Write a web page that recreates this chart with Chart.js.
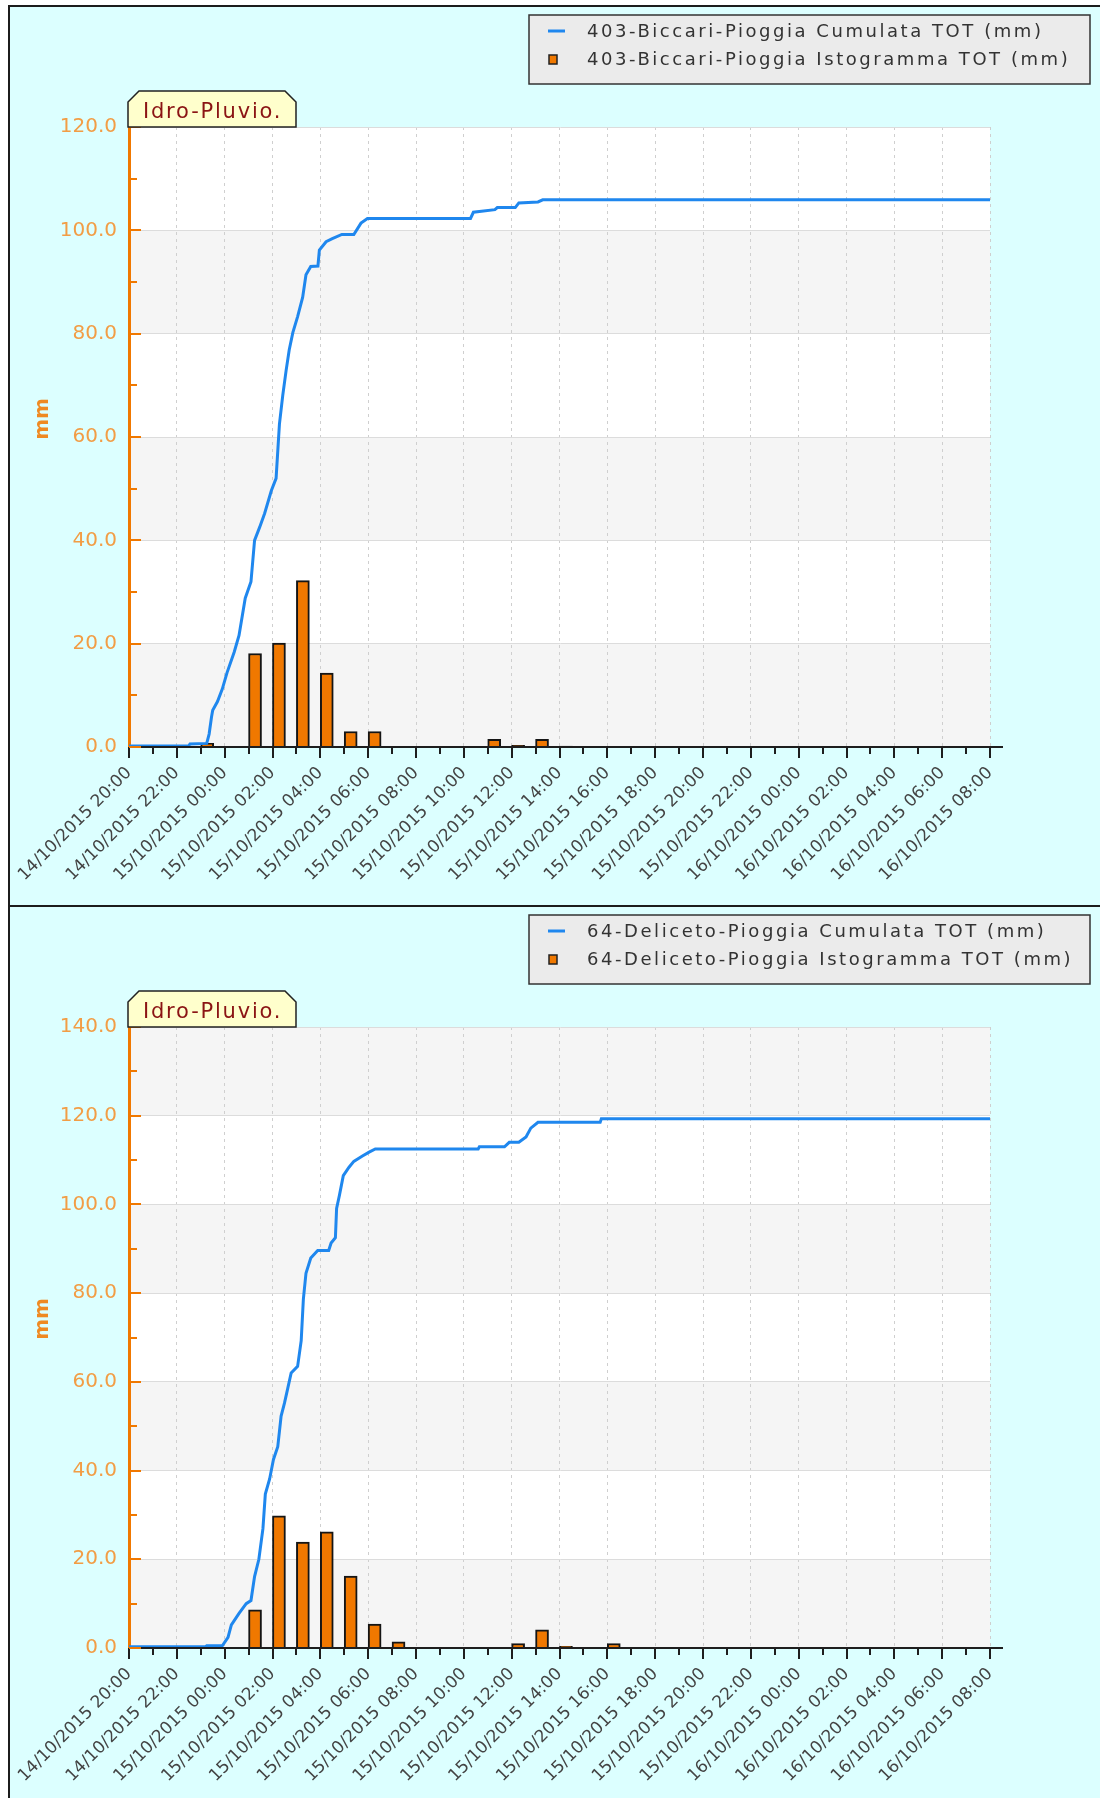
<!DOCTYPE html>
<html>
<head>
<meta charset="utf-8">
<script src="https://cdn.jsdelivr.net/npm/chart.js@4.4.1/dist/chart.umd.min.js"></script>
<style>
body { margin: 0; background: #fff; width: 1100px; height: 1798px; overflow: hidden; position: relative; }
.pannello { position: absolute; left: 8px; width: 1090px; background: #dcffff; border: 2px solid #1c1c1c; border-right: none; }
#p1 { top: 5px; height: 898px; }
#p2 { top: 905px; height: 900px; }
canvas { display: block; }
</style>
</head>
<body>
<div class="pannello" id="p1"><canvas id="grafico1" width="1090" height="898"></canvas></div>
<div class="pannello" id="p2"><canvas id="grafico2" width="1090" height="891"></canvas></div>
<script>
// ore contate dal 14/10/2015 20:00
const etichetteOre = ['14/10/2015 20:00', '14/10/2015 22:00', '15/10/2015 00:00', '15/10/2015 02:00',
    '15/10/2015 04:00', '15/10/2015 06:00', '15/10/2015 08:00', '15/10/2015 10:00', '15/10/2015 12:00',
    '15/10/2015 14:00', '15/10/2015 16:00', '15/10/2015 18:00', '15/10/2015 20:00', '15/10/2015 22:00',
    '16/10/2015 00:00', '16/10/2015 02:00', '16/10/2015 04:00', '16/10/2015 06:00', '16/10/2015 08:00'];

// 403 Biccari
const legenda1 = ['403-Biccari-Pioggia Cumulata TOT (mm)', '403-Biccari-Pioggia Istogramma TOT (mm)'];
const oreCumulata1 = [0, 2.5, 2.55, 3.25, 3.35, 3.45, 3.5, 3.7, 3.9, 4.1, 4.4, 4.6, 4.86, 5.1, 5.25, 5.46, 5.67,
    5.95, 6.15, 6.29, 6.43, 6.57, 6.7, 6.85, 7.05, 7.26, 7.4, 7.6, 7.9, 7.96, 8.24, 8.5, 8.9, 9.4, 9.7, 9.97,
    14.28, 14.4, 15.3, 15.4, 16.15, 16.3, 17.1, 17.3, 36];
const valoriCumulata1 = [0.2, 0.25, 0.6, 0.7, 2.5, 5.8, 7.1, 8.8, 11.2, 14.4, 18.4, 21.6, 28.8, 32, 40, 42.5, 45.2,
    49.6, 52, 62.5, 68.1, 72.9, 76.9, 80.2, 83.3, 87, 91.4, 93, 93.1, 96.2, 97.8, 98.4, 99.2, 99.2, 101.4, 102.3,
    102.3, 103.5, 104.0, 104.4, 104.4, 105.3, 105.5, 105.9, 105.9];
const oreIsto1 = [3, 5, 6, 7, 8, 9, 10, 15, 16, 17, 18];
const valoriIsto1 = [0.7, 18.1, 20.1, 32.2, 14.3, 3.0, 3.0, 1.5, 0.3, 1.5, 0.2];

// 64 Deliceto
const legenda2 = ['64-Deliceto-Pioggia Cumulata TOT (mm)', '64-Deliceto-Pioggia Istogramma TOT (mm)'];
const oreCumulata2 = [0, 3.2, 3.25, 3.9, 4.14, 4.28, 4.6, 4.9, 5.1, 5.25, 5.43, 5.6, 5.7, 5.88, 6.04, 6.22, 6.36,
    6.5, 6.64, 6.78, 7.05, 7.2, 7.29, 7.4, 7.6, 7.89, 8.35, 8.45, 8.63, 8.68, 8.8, 8.96, 9.2, 9.4, 9.76, 10.04,
    10.3, 14.6, 14.65, 15.7, 15.9, 16.3, 16.6, 16.8, 17.1, 19.7, 19.75, 36];
const valoriCumulata2 = [0.3, 0.3, 0.5, 0.5, 2.4, 5.2, 7.8, 10, 10.7, 16.1, 20, 26.9, 34.7, 38.1, 42.5, 45.4, 52.3,
    55.2, 58.6, 62, 63.5, 69.3, 78.6, 84.5, 87.9, 89.6, 89.6, 91.3, 92.5, 99.1, 102.1, 106.5, 108.4, 109.7, 110.9, 111.8,
    112.5, 112.5, 113, 113, 114, 114, 115.2, 117.2, 118.5, 118.5, 119.3, 119.3];
const oreIsto2 = [5, 6, 7, 8, 9, 10, 11, 16, 17, 18, 20];
const valoriIsto2 = [8.6, 29.8, 23.9, 26.2, 16.2, 5.4, 1.4, 1.0, 4.1, 0.4, 1.0];

const FONT = '"DejaVu Sans", Verdana, sans-serif';
const ARANCIO = '#f07800';
const BLU = '#1f87ee';

function creaGrafico(id, legenda, oreLinea, valoriLinea, oreBarre, valoriBarre, maxY, fondo) {
    let canvas = document.getElementById(id);

    let decorazioni = {
        id: 'decorazioni',
        beforeDraw(chart) {
            const ctx = chart.ctx, a = chart.chartArea, y = chart.scales.y;
            ctx.save();
            ctx.fillStyle = '#ffffff';
            ctx.fillRect(a.left, a.top, a.width, a.height);
            ctx.fillStyle = '#f5f5f5';
            for (let v = 0; v < maxY; v += 40) {
                let y1 = y.getPixelForValue(v), y2 = y.getPixelForValue(v + 20);
                ctx.fillRect(a.left, y2, a.width, y1 - y2);
            }
            ctx.restore();
        },
        afterDatasetsDraw(chart) {
            const ctx = chart.ctx, a = chart.chartArea, x = chart.scales.x, y = chart.scales.y;
            ctx.save();
            ctx.strokeStyle = '#1e1e1e';
            ctx.lineWidth = 2;
            ctx.beginPath();
            ctx.moveTo(a.left, a.bottom);
            ctx.lineTo(a.right + 13, a.bottom);
            for (let h = 0; h <= 36; h++) {
                let px = Math.round(x.getPixelForValue(h));
                ctx.moveTo(px, a.bottom);
                ctx.lineTo(px, a.bottom + (h % 2 == 0 ? 11 : 7));
            }
            ctx.stroke();
            ctx.strokeStyle = ARANCIO;
            ctx.beginPath();
            for (let v = 0; v <= maxY; v += 10) {
                let py = Math.round(y.getPixelForValue(v));
                ctx.moveTo(a.left, py);
                ctx.lineTo(a.left + (v % 20 == 0 ? 12 : 8), py);
            }
            ctx.stroke();
            ctx.restore();
        },
        afterDraw(chart) {
            const ctx = chart.ctx, a = chart.chartArea;
            ctx.save();
            // etichetta Idro-Pluvio.
            let l = a.left - 1, r = a.left + 167, t = a.top - 36, b = a.top;
            ctx.beginPath();
            ctx.moveTo(l, b);
            ctx.lineTo(l, t + 11);
            ctx.lineTo(l + 11, t);
            ctx.lineTo(r - 11, t);
            ctx.lineTo(r, t + 11);
            ctx.lineTo(r, b);
            ctx.closePath();
            ctx.fillStyle = '#ffffcc';
            ctx.fill();
            ctx.strokeStyle = '#222';
            ctx.lineWidth = 1.5;
            ctx.stroke();
            ctx.fillStyle = '#8b1414';
            ctx.font = '21px ' + FONT;
            ctx.letterSpacing = '1.8px';
            ctx.textBaseline = 'alphabetic';
            ctx.fillText('Idro-Pluvio.', l + 15, b - 9);

            // titolo asse
            ctx.letterSpacing = '0px';
            ctx.save();
            ctx.translate(33, 412);
            ctx.rotate(-Math.PI / 2);
            ctx.font = 'bold 20px ' + FONT;
            ctx.fillStyle = '#ef8a22';
            ctx.textAlign = 'center';
            ctx.textBaseline = 'middle';
            ctx.fillText('mm', 0, 0);
            ctx.restore();

            // legenda
            let lx = 519, ly = 8, lw = chart.width - 10 - 519, lh = 69;
            ctx.fillStyle = '#ebebeb';
            ctx.fillRect(lx, ly, lw, lh);
            ctx.strokeStyle = '#333';
            ctx.lineWidth = 1.5;
            ctx.strokeRect(lx, ly, lw, lh);
            ctx.strokeStyle = BLU;
            ctx.lineWidth = 3;
            ctx.beginPath();
            ctx.moveTo(lx + 19, ly + 16);
            ctx.lineTo(lx + 36, ly + 16);
            ctx.stroke();
            ctx.fillStyle = ARANCIO;
            ctx.fillRect(lx + 20, ly + 40, 8, 9);
            ctx.strokeStyle = '#222';
            ctx.lineWidth = 1.5;
            ctx.strokeRect(lx + 20, ly + 40, 8, 9);
            ctx.fillStyle = '#333';
            ctx.font = '18px ' + FONT;
            ctx.letterSpacing = '2.55px';
            ctx.textBaseline = 'middle';
            ctx.fillText(chart.data.datasets[0].label, lx + 58, ly + 17);
            ctx.fillText(chart.data.datasets[1].label, lx + 58, ly + 45);
            ctx.restore();
        }
    };

    return new Chart(canvas, {
        type: 'line',
        data: {
            datasets: [{
                type: 'line',
                label: legenda[0],
                data: oreLinea.map((h, i) => ({ x: h, y: valoriLinea[i] })),
                borderColor: BLU,
                borderWidth: 3,
                pointRadius: 0,
                tension: 0,
                fill: false
            }, {
                type: 'bar',
                label: legenda[1],
                // la barra occupa la prima mezz'ora dell'intervallo
                data: oreBarre.map((h, i) => ({ x: h + 0.27, y: valoriBarre[i] })),
                backgroundColor: ARANCIO,
                borderColor: '#151515',
                borderWidth: 2,
                barThickness: 13
            }]
        },
        options: {
            responsive: false,
            animation: false,
            devicePixelRatio: 1,
            layout: { padding: { top: 120, right: 110, left: 0, bottom: 0 } },
            plugins: { legend: { display: false }, tooltip: { enabled: false } },
            scales: {
                x: {
                    type: 'linear',
                    min: 0,
                    max: 36,
                    offset: false,
                    afterFit: function (scale) {
                        scale.height = canvas.height - fondo;
                        scale.paddingLeft = 0;
                        scale.paddingRight = 0;
                    },
                    grid: { color: '#cfcfcf', drawTicks: false, offset: false },
                    border: { display: false, dash: [3, 4] },
                    ticks: {
                        stepSize: 2,
                        autoSkip: false,
                        minRotation: 45,
                        maxRotation: 45,
                        padding: 16,
                        color: '#444',
                        font: { family: FONT, size: 17 },
                        callback: function (value) { return etichetteOre[value / 2]; }
                    }
                },
                y: {
                    min: 0,
                    max: maxY,
                    afterFit: function (scale) { scale.width = 119; },
                    grid: { color: '#dcdcdc', drawTicks: false },
                    border: { color: ARANCIO, width: 3 },
                    ticks: {
                        stepSize: 20,
                        padding: 12,
                        color: '#f29d45',
                        font: { family: FONT, size: 20 },
                        callback: function (value) { return value.toFixed(1); }
                    }
                }
            }
        },
        plugins: [decorazioni]
    });
}

creaGrafico('grafico1', legenda1, oreCumulata1, valoriCumulata1, oreIsto1, valoriIsto1, 120, 740);
creaGrafico('grafico2', legenda2, oreCumulata2, valoriCumulata2, oreIsto2, valoriIsto2, 140, 741);
</script>
</body>
</html>
